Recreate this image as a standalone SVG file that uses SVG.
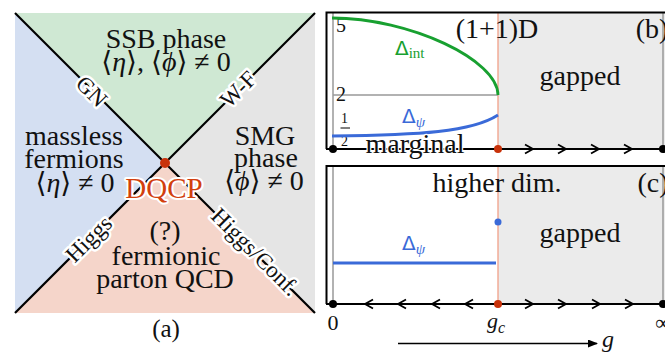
<svg xmlns="http://www.w3.org/2000/svg" width="665" height="354" viewBox="0 0 665 354" font-family="Liberation Serif, Times New Roman, DejaVu Serif, serif">
<style>
text{fill:#111}
.big{font-size:28px;text-anchor:middle}
.mid{font-size:28px;text-anchor:middle}
.lbl{font-size:23px;text-anchor:middle;stroke:#fff;stroke-width:5;stroke-linejoin:round;paint-order:stroke}
.halo{stroke:#fff;stroke-width:4;stroke-linejoin:round;paint-order:stroke}
.it{font-style:italic}
.ln{stroke:#000;stroke-width:2.2;fill:none}
.frame{stroke:#000;stroke-width:2;fill:none}
.grayln{stroke:#999;stroke-width:1.5;fill:none}
.orange{stroke:#f2a088;stroke-width:1.3}
.chev{fill:none;stroke:#000;stroke-width:1.8}
.gapreg{fill:#ebebeb}
.bdot{fill:#000}
.rdot{fill:#c8320a}
.green{fill:#18a030}
.blue{fill:#3a6ad8}
</style>
<defs>
<path id="cr" d="M-8,-4.5 L0,0 L-8,4.5" class="chev"/>
<path id="cl" d="M8,-4.5 L0,0 L8,4.5" class="chev"/>
<marker id="ah" viewBox="0 0 10 8" refX="9" refY="4" markerWidth="15" markerHeight="8" markerUnits="userSpaceOnUse" orient="auto">
<path d="M0,0 L10,4 L0,8 Z" fill="#000"/>
</marker>
</defs>

<!-- Panel (a) -->
<g id="ssb-phase">
<polygon points="15,13 315,13 165,163" fill="#cfe8d3"/>
<text class="big" x="166" y="48" font-size="29">SSB phase</text>
<text class="big" x="166" y="71">⟨<tspan class="it">η</tspan>⟩, ⟨<tspan class="it">ϕ</tspan>⟩ ≠ 0</text>
</g>
<g id="massless-fermions">
<polygon points="15,13 165,163 15,313" fill="#d4dff2"/>
<text class="big" x="74" y="145">massless</text>
<text class="big" x="74" y="168">fermions</text>
<text class="big" x="75" y="192">⟨<tspan class="it">η</tspan>⟩ ≠ 0</text>
</g>
<g id="smg-phase">
<polygon points="315,13 315,313 165,163" fill="#e5e5e5"/>
<text class="big" x="265" y="145">SMG</text>
<text class="big" x="266" y="167">phase</text>
<text class="big" x="264" y="190">⟨<tspan class="it">ϕ</tspan>⟩ ≠ 0</text>
</g>
<g id="parton-qcd">
<polygon points="15,313 315,313 165,163" fill="#f5d5ca"/>
<text class="big" x="165" y="240">(?)</text>
<text class="big" x="166" y="265">fermionic</text>
<text class="big" x="165" y="288">parton QCD</text>
</g>

<g id="connectors">
<line class="ln" x1="15" y1="13" x2="315" y2="313"/>
<line class="ln" x1="315" y1="13" x2="15" y2="313"/>
<text class="lbl" transform="translate(92,91) rotate(45)" y="8">GN</text>
<text class="lbl" transform="translate(238,89) rotate(-45)" y="8">W-F</text>
<text class="lbl" transform="translate(90,240) rotate(-45)" y="6">Higgs</text>
<text class="lbl" transform="translate(254,253) rotate(45)" y="6">Higgs/Conf.</text>
</g>

<g id="dqcp">
<circle class="rdot" cx="165" cy="163" r="5"/>
<text class="mid halo" x="164" y="198" font-size="29" style="fill:#d2400e;font-size:29px">DQCP</text>
</g>

<text class="big" x="166" y="337" style="font-size:25px">(a)</text>

<!-- Panel (b) -->
<g id="panel-b">
<rect class="gapreg" x="498" y="13" width="167" height="136"/>
<line class="orange" x1="498" y1="13" x2="498" y2="149"/>
<line class="grayln" x1="333" y1="13" x2="333" y2="149"/>
<line class="grayln" x1="333" y1="95" x2="498" y2="95"/>
<line class="grayln" x1="663" y1="13" x2="663" y2="149"/>
<path class="frame" d="M326.5,149 V12.5 H665"/>
<text x="336" y="32" font-size="20">5</text>
<text x="336" y="101" font-size="20">2</text>
<text x="341" y="123" font-size="14">1</text>
<line x1="340.5" y1="128" x2="350" y2="128" stroke="#000" stroke-width="1"/>
<text x="341" y="146" font-size="14">2</text>
<path d="M332,18 C410,18 498,60 498,95" fill="none" stroke="#18a030" stroke-width="2.8"/>
<path d="M332,136 C420,135 472,132 498,115" fill="none" stroke="#3a6ad8" stroke-width="2.8"/>
<text class="green" x="395" y="55" font-size="20" font-family="DejaVu Sans, Liberation Sans, sans-serif">Δ<tspan font-family="Liberation Serif, DejaVu Serif, serif" font-size="15" dy="3">int</tspan></text>
<text class="blue" x="402" y="123" font-size="20" font-family="DejaVu Sans, Liberation Sans, sans-serif">Δ<tspan font-family="Liberation Serif, DejaVu Serif, serif" font-size="15" font-style="italic" dy="4">ψ</tspan></text>
<text class="mid" x="497" y="38">(1+1)D</text>
<text class="mid" x="652" y="38">(b)</text>
<text class="mid" x="580" y="85">gapped</text>
<line class="frame" x1="326" y1="149" x2="665" y2="149"/>
<text class="mid halo" x="415" y="153" style="stroke-width:2.5">marginal</text>
<use href="#cr" x="533" y="149"/>
<use href="#cr" x="566" y="149"/>
<use href="#cr" x="599" y="149"/>
<use href="#cr" x="632" y="149"/>
<circle class="bdot" cx="333" cy="149" r="4"/>
<circle class="rdot" cx="498" cy="149" r="4"/>
<circle class="bdot" cx="663" cy="149" r="4"/>
</g>

<!-- Panel (c) -->
<g id="panel-c">
<rect class="gapreg" x="498" y="166" width="167" height="138"/>
<line class="orange" x1="498" y1="166" x2="498" y2="304"/>
<line class="grayln" x1="333" y1="166" x2="333" y2="304"/>
<line class="grayln" x1="663" y1="166" x2="663" y2="304"/>
<path class="frame" d="M326.5,304 V166 H665"/>
<line x1="333" y1="263" x2="496" y2="263" stroke="#3a6ad8" stroke-width="2.8"/>
<circle class="blue" cx="498" cy="222" r="3.5"/>
<text class="blue" x="402" y="250" font-size="20" font-family="DejaVu Sans, Liberation Sans, sans-serif">Δ<tspan font-family="Liberation Serif, DejaVu Serif, serif" font-size="15" font-style="italic" dy="4">ψ</tspan></text>
<text class="mid" x="497" y="192">higher dim.</text>
<text class="mid" x="653" y="192">(c)</text>
<text class="mid" x="580" y="242">gapped</text>
<line class="frame" x1="326" y1="304" x2="665" y2="304"/>
<use href="#cl" x="365" y="304"/>
<use href="#cl" x="398" y="304"/>
<use href="#cl" x="432" y="304"/>
<use href="#cl" x="465" y="304"/>
<use href="#cr" x="533" y="304"/>
<use href="#cr" x="566" y="304"/>
<use href="#cr" x="600" y="304"/>
<use href="#cr" x="633" y="304"/>
<circle class="bdot" cx="333" cy="304" r="4"/>
<circle class="rdot" cx="498" cy="304" r="4"/>
<circle class="bdot" cx="663" cy="304" r="4"/>
<text x="333" y="330" font-size="22" text-anchor="middle">0</text>
<text x="487" y="328" font-size="22" font-style="italic">g<tspan font-size="16" dy="5">c</tspan></text>
<text x="663" y="330" font-size="22" text-anchor="middle">∞</text>
<line x1="398" y1="343.5" x2="597" y2="343.5" stroke="#000" stroke-width="1.6" marker-end="url(#ah)"/>
<text x="602" y="347" font-size="24" font-style="italic">g</text>
</g>
</svg>
